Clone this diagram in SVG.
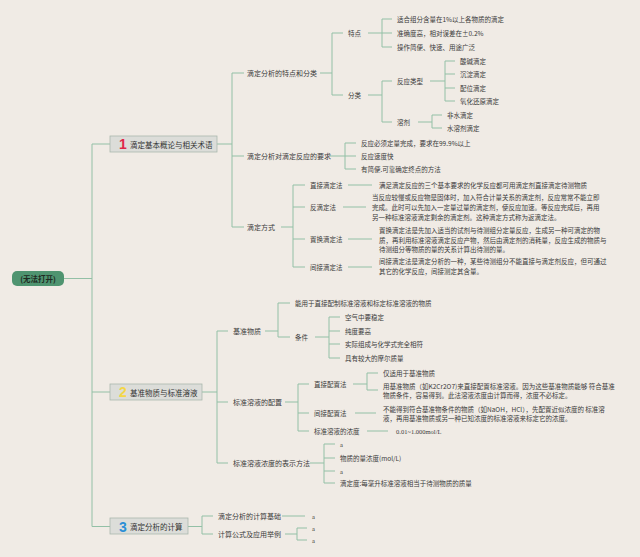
<svg xmlns="http://www.w3.org/2000/svg" width="640" height="557" viewBox="0 0 640 557">
<style>
text{font-family:"Noto Sans CJK SC","Noto Sans",sans-serif;fill:#3a3a3a;dominant-baseline:central}
.l2{font-size:7px}
.l3{font-size:6.5px}
.sf{font-family:"Liberation Serif","Times New Roman",serif}
.nt{font-size:7.5px;fill:#333}
.num{font-family:"Liberation Sans",Arial,sans-serif;font-weight:bold;font-size:14px;text-anchor:middle}
.box{fill:#dcddd9;stroke:#aab8ae;stroke-width:0.8}
#connectors path{fill:none;stroke:#93c0a6;stroke-width:1}
</style>
<rect width="640" height="557" fill="#f0ebe5"/>
<g id="connectors">
<path d="M64,278.5H92M92,144V526.5M92,144H110M92,392H110M92,526.5H110"/>
<path d="M217,144H232M232,73V227M232,73H244M232,156H244M232,227H244"/>
<path d="M320,73H332M332,33V95M332,33H343M332,95H343"/>
<path d="M368,33H382M382,19V47M382,19H392M382,33H392M382,47H392"/>
<path d="M368,95H382M382,81V122M382,81H392M382,122H392"/>
<path d="M430,81H445M445,61V101M445,61H455M445,74H455M445,88H455M445,101H455"/>
<path d="M418,122H432M432,115V128M432,115H442M432,128H442"/>
<path d="M330,156H345M345,143V169M345,143H356M345,156H356M345,169H356"/>
<path d="M281,227H293M293,185V267M293,185H305M293,207H305M293,239H305M293,267H305"/>
<path d="M348,185H372M343,207H366M348,239H372M348,267H372"/>
<path d="M202,392H217M217,331V463M217,331H228M217,402H228M217,463H228"/>
<path d="M265,331H278M278,303V337M278,303H290M278,337H290"/>
<path d="M315,337H329M329,317V358M329,317H340M329,331H340M329,344H340M329,358H340"/>
<path d="M285,402H298M298,384V431M298,384H309M298,413H309M298,431H309"/>
<path d="M353,384H367M367,373V390M367,373H378M367,390H378"/>
<path d="M355,413H376M367,431H388"/>
<path d="M310,463H324M324,444V483M324,444H335M324,458H335M324,471H335M324,483H335"/>
<path d="M188,526.5H202M202,516V534M202,516H213M202,534H213"/>
<path d="M282,516H305M285,534H297M297,528V540M297,528H307M297,540H307"/>
</g>
<g id="root">
<rect x="12" y="271" width="52" height="15" rx="5" fill="#4f9470"/>
<text x="38" y="278.5" font-size="7.5" font-weight="bold" text-anchor="middle" style="fill:#1f2a22">(无法打开)</text>
</g>
<g id="n1">
<rect class="box" x="110" y="136" width="107" height="16"/>
<text class="num" x="123" y="144" style="fill:#e0284a">1</text>
<text class="nt" x="130" y="144">滴定基本概论与相关术语</text>
</g>
<g id="n2">
<rect class="box" x="110" y="384" width="92" height="16"/>
<text class="num" x="123" y="392" style="fill:#f3d648">2</text>
<text class="nt" x="130" y="392">基准物质与标准溶液</text>
</g>
<g id="n3">
<rect class="box" x="110" y="518" width="78" height="16"/>
<text class="num" x="123" y="526.5" style="fill:#2b8fd6">3</text>
<text class="nt" x="130" y="526.5">滴定分析的计算</text>
</g>
<g id="n1-children">
<text class="l2" x="247" y="73">滴定分析的特点和分类</text>
<text class="l3" x="348" y="33">特点</text>
<text class="l3" x="397" y="19">适合组分含量在1%以上各物质的滴定</text>
<text class="l3" x="397" y="33">准确度高，相对误差在±0.2%</text>
<text class="l3" x="397" y="47">操作简便、快速、用途广泛</text>
<text class="l3" x="348" y="95">分类</text>
<text class="l3" x="397" y="81">反应类型</text>
<text class="l3" x="460" y="61">酸碱滴定</text>
<text class="l3" x="460" y="74">沉淀滴定</text>
<text class="l3" x="460" y="88">配位滴定</text>
<text class="l3" x="460" y="101">氧化还原滴定</text>
<text class="l3" x="397" y="122">溶剂</text>
<text class="l3" x="447" y="115">非水滴定</text>
<text class="l3" x="447" y="128">水溶剂滴定</text>
<text class="l2" x="247" y="156">滴定分析对滴定反应的要求</text>
<text class="l3" x="361" y="143">反应必须定量完成，要求在99.9%以上</text>
<text class="l3" x="361" y="156">反应速度快</text>
<text class="l3" x="361" y="169">有简便.可靠确定终点的方法</text>
<text class="l2" x="247" y="227">滴定方式</text>
<text class="l3" x="310" y="185">直接滴定法</text>
<text class="l3" x="379" y="185">满足滴定反应的三个基本要求的化学反应都可用滴定剂直接滴定待测物质</text>
<text class="l3" x="310" y="207">反滴定法</text>
<text class="l3" x="372" y="197">当反应较慢或反应物是固体时，加入符合计量关系的滴定剂，反应常常不能立即</text>
<text class="l3" x="372" y="207">完成。此时可以先加入一定量过量的滴定剂，使反应加速。等反应完成后，再用</text>
<text class="l3" x="372" y="216.5">另一种标准溶液滴定剩余的滴定剂。这种滴定方式称为返滴定法。</text>
<text class="l3" x="310" y="239">置换滴定法</text>
<text class="l3" x="379" y="230">置换滴定法是先加入适当的试剂与待测组分定量反应，生成另一种可滴定的物</text>
<text class="l3" x="379" y="239.5">质，再利用标准溶液滴定反应产物，然后由滴定剂的消耗量，反应生成的物质与</text>
<text class="l3" x="379" y="249">待测组分等物质的量的关系计算出待测的量。</text>
<text class="l3" x="310" y="267">间接滴定法</text>
<text class="l3" x="379" y="261">间接滴定法是滴定分析的一种，某些待测组分不能直接与滴定剂反应，但可通过</text>
<text class="l3" x="379" y="271">其它的化学反应，间接测定其含量。</text>
</g>
<g id="n2-children">
<text class="l2" x="233" y="331">基准物质</text>
<text class="l3" x="295" y="303">能用于直接配制标准溶液和标定标准溶液的物质</text>
<text class="l3" x="295" y="337">条件</text>
<text class="l3" x="345" y="317">空气中要稳定</text>
<text class="l3" x="345" y="331">纯度要高</text>
<text class="l3" x="345" y="344">实际组成与化学式完全相符</text>
<text class="l3" x="345" y="358">具有较大的摩尔质量</text>
<text class="l2" x="233" y="402">标准溶液的配置</text>
<text class="l3" x="314" y="384">直接配置法</text>
<text class="l3" x="383" y="373">仅适用于基准物质</text>
<text class="l3" x="383" y="386">用基准物质（如K2Cr2O7)来直接配置标准溶液。因为这些基准物质能够 符合基准</text>
<text class="l3" x="383" y="395">物质条件，容易得到。此法溶液浓度由计算而得，浓度不必标定。</text>
<text class="l3" x="314" y="413">间接配置法</text>
<text class="l3" x="383" y="409">不能得到符合基准物条件的物质（如NaOH，HCl），先配置近似浓度的 标准溶</text>
<text class="l3" x="383" y="418">液，再用基准物质或另一种已知浓度的标准溶液来标定它的浓度。</text>
<text class="l3" x="314" y="431">标准溶液的浓度</text>
<text class="l3 sf" x="396" y="431">0.01~1.000mol/L</text>
<text class="l2" x="233" y="463">标准溶液浓度的表示方法</text>
<text class="l3 sf" x="340" y="444">a</text>
<text class="l3" x="340" y="458">物质的量浓度(mol/L)</text>
<text class="l3 sf" x="340" y="471">a</text>
<text class="l3" x="340" y="483">滴定度:每毫升标准溶液相当于待测物质的质量</text>
</g>
<g id="n3-children">
<text class="l2" x="218" y="516">滴定分析的计算基础</text>
<text class="l3 sf" x="312" y="516">a</text>
<text class="l2" x="218" y="534">计算公式及应用举例</text>
<text class="l3 sf" x="312" y="528">a</text>
<text class="l3 sf" x="312" y="540">a</text>
</g>
</svg>
